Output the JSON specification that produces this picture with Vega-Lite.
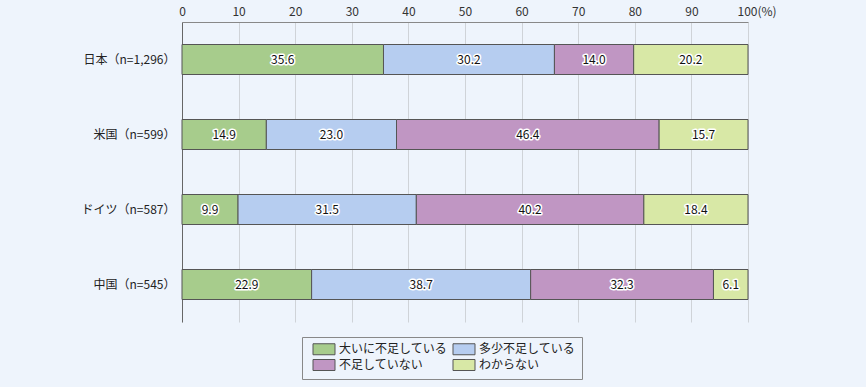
{
  "$schema": "https://vega.github.io/schema/vega-lite/v6.json",
  "width": 566,
  "height": 300,
  "autosize": "none",
  "padding": {"left": 182, "top": 22, "right": 118, "bottom": 65},
  "background": "#eef4fc",
  "config": {
    "font": "Noto Sans CJK JP",
    "view": {"stroke": null}
  },
  "data": {
    "values": [
      {"country": "日本（n=1,296）", "cat": "大いに不足している", "o": 1, "v": 35.6},
      {"country": "日本（n=1,296）", "cat": "多少不足している", "o": 2, "v": 30.2},
      {"country": "日本（n=1,296）", "cat": "不足していない", "o": 3, "v": 14.0},
      {"country": "日本（n=1,296）", "cat": "わからない", "o": 4, "v": 20.2},
      {"country": "米国（n=599）", "cat": "大いに不足している", "o": 1, "v": 14.9},
      {"country": "米国（n=599）", "cat": "多少不足している", "o": 2, "v": 23.0},
      {"country": "米国（n=599）", "cat": "不足していない", "o": 3, "v": 46.4},
      {"country": "米国（n=599）", "cat": "わからない", "o": 4, "v": 15.7},
      {"country": "ドイツ（n=587）", "cat": "大いに不足している", "o": 1, "v": 9.9},
      {"country": "ドイツ（n=587）", "cat": "多少不足している", "o": 2, "v": 31.5},
      {"country": "ドイツ（n=587）", "cat": "不足していない", "o": 3, "v": 40.2},
      {"country": "ドイツ（n=587）", "cat": "わからない", "o": 4, "v": 18.4},
      {"country": "中国（n=545）", "cat": "大いに不足している", "o": 1, "v": 22.9},
      {"country": "中国（n=545）", "cat": "多少不足している", "o": 2, "v": 38.7},
      {"country": "中国（n=545）", "cat": "不足していない", "o": 3, "v": 32.3},
      {"country": "中国（n=545）", "cat": "わからない", "o": 4, "v": 6.1}
    ]
  },
  "encoding": {
    "y": {
      "field": "country", "type": "nominal", "sort": null, "title": null,
      "scale": {"paddingInner": 0.6, "paddingOuter": 0.3},
      "axis": {"domainColor": "#666", "ticks": false, "labelPadding": 7, "labelFontSize": 12, "labelColor": "#222", "labelFont": "Noto Sans CJK JP"}
    }
  },
  "layer": [
    {
      "mark": {"type": "bar", "stroke": "#555", "strokeWidth": 1},
      "encoding": {
        "x": {
          "field": "v", "type": "quantitative", "stack": "zero", "title": null,
          "scale": {"domain": [0, 100], "nice": false},
          "axis": {
            "orient": "top", "values": [0, 10, 20, 30, 40, 50, 60, 70, 80, 90, 100],
            "labelExpr": "datum.value == 100 ? '100(%)' : datum.label",
            "labelAlign": {"condition": {"test": "datum.value == 100", "value": "left"}, "value": "center"},
            "labelOffset": {"condition": {"test": "datum.value == 100", "value": -11}, "value": 0},
            "ticks": false, "labelPadding": 4, "labelFontSize": 12, "labelColor": "#333",
            "domainColor": "#888", "gridColor": "#cfd3d8", "grid": true
          }
        },
        "color": {
          "field": "cat", "type": "nominal",
          "scale": {
            "domain": ["大いに不足している", "多少不足している", "不足していない", "わからない"],
            "range": ["#a7cc8c", "#b6cdf0", "#c096c3", "#d8e8a6"]
          },
          "legend": {
            "title": null, "orient": "none", "legendX": 120, "legendY": 315,
            "columns": 2, "direction": "horizontal",
            "symbolType": "M-2,-1H2V1H-2Z", "symbolSize": 121,
            "symbolStrokeColor": "#555", "symbolStrokeWidth": 1, "symbolOffset": 10,
            "labelFontSize": 12, "labelColor": "#222", "labelFont": "Noto Sans CJK JP", "labelOffset": 9,
            "strokeColor": "#888", "padding": 6, "rowPadding": 0, "columnPadding": 0,
            "labelLimit": 200
          }
        },
        "order": {"field": "o", "type": "quantitative"}
      }
    },
    {
      "mark": {"type": "text", "fontSize": 12, "stroke": "white", "strokeWidth": 3, "strokeJoin": "round", "fill": "white"},
      "encoding": {
        "x": {"field": "v", "type": "quantitative", "stack": "zero", "bandPosition": 0.5},
        "text": {"field": "v", "type": "quantitative", "format": ".1f"},
        "order": {"field": "o", "type": "quantitative"}
      }
    },
    {
      "mark": {"type": "text", "fontSize": 12, "fill": "#111"},
      "encoding": {
        "x": {"field": "v", "type": "quantitative", "stack": "zero", "bandPosition": 0.5},
        "text": {"field": "v", "type": "quantitative", "format": ".1f"},
        "order": {"field": "o", "type": "quantitative"}
      }
    }
  ]
}
